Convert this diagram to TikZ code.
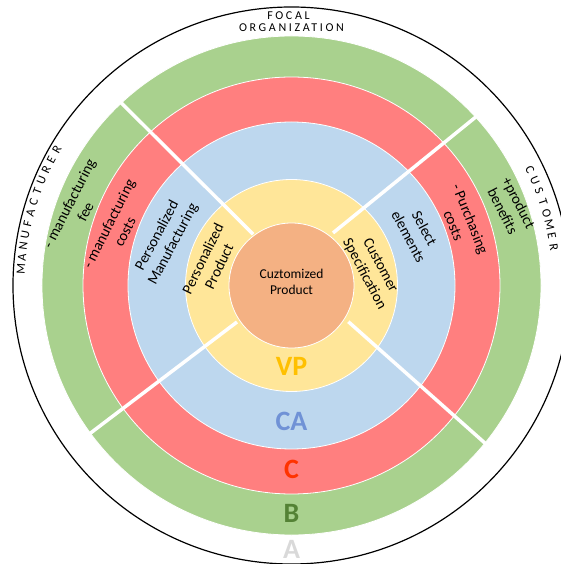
\documentclass[tikz,border=0pt]{standalone}
\usepackage{fontspec}
\setmainfont{Carlito}

\definecolor{ringgreen}{HTML}{A9D18E}
\definecolor{ringred}{HTML}{FF7F7F}
\definecolor{ringblue}{HTML}{BDD7EE}
\definecolor{ringyellow}{HTML}{FFE699}
\definecolor{ringorange}{HTML}{F4B183}
\definecolor{vpgold}{HTML}{FFC000}
\definecolor{cablue}{HTML}{7092D6}
\definecolor{cred}{HTML}{FF3300}
\definecolor{bgreen}{HTML}{548235}
\definecolor{agray}{HTML}{D9D9D9}

\begin{document}
\begin{tikzpicture}[x=1pt,y=1pt,
  ring/.style={draw=white, line width=0.8},
  divider/.style={white, line width=3.5},
  ringlabel/.style={align=center, inner sep=0pt, font=\fontsize{15}{18}\selectfont},
  layer/.style={inner sep=0pt, font=\bfseries\fontsize{28}{28}\selectfont},
  rimletter/.style={inner sep=0pt, font=\fontsize{12.5}{12.5}\selectfont}]

\clip (-291.5,-278.5) rectangle (269.5,285.5);

% draw outer circle
\draw[line width=1.2] (0,0) circle (278.5);

% draw rings
\fill[ringgreen, ring] (0,0) circle (249.5);
\fill[ringred, ring] (0,0) circle (208.5);
\fill[ringblue, ring] (0,0) circle (163.5);
\fill[ringyellow, ring] (0,0) circle (106);
\fill[ringorange, ring] (0,0) circle (62.5);

% draw dividers
\draw[divider] (126.8:64) -- (133:251);
\draw[divider] (51.7:67) -- (42.4:252.7);
\draw[divider] (213.8:65.6) -- (216.3:252.5);
\draw[divider] (327.5:67.4) -- (320.8:252.3);

% center
\node[align=center, inner sep=0pt, font=\fontsize{13.5}{16}\selectfont] (core) at (0,4) {Cuztomized\\Product};

% manufacturer side
\node[ringlabel, rotate=63] (mfee) at (160:228) {- manufacturing\\fee};
\node[ringlabel, rotate=63] (mcosts) at (161.7:184) {- manufacturing\\costs};
\node[ringlabel, rotate=62] (pmanuf) at (160.2:134) {Personalized\\Manufacturing};
\node[ringlabel, rotate=64] (pprod) at (164:84) {Personalized\\Product};

% customer side
\node[ringlabel, rotate=-62] (cspec) at (10.9:82) {Customer\\Specification};
\node[ringlabel, rotate=-62] (select) at (23:136) {Select\\elements};
\node[ringlabel, rotate=-68] (pcosts) at (20.4:182) {- Purchasing\\costs};
\node[ringlabel, rotate=-63] (benefit) at (19.7:233) {+product\\benefits};

% layer letters
\node[layer, vpgold] (vp) at (0,-80.5) {VP};
\node[layer, cablue] (ca) at (0,-136) {CA};
\node[layer, cred] (c) at (0,-183.5) {C};
\node[layer, bgreen] (b) at (0,-228) {B};
\node[layer, agray] (a) at (0,-263.5) {A};

% rim texts
\node[inner sep=0pt, font=\fontsize{12}{12}\selectfont\addfontfeature{LetterSpace=22}] (focal) at (-3,270) {FOCAL};
\node[inner sep=0pt, font=\fontsize{12}{12}\selectfont\addfontfeature{LetterSpace=22}] (org) at (0,257.5) {ORGANIZATION};
\foreach \ch [count=\i from 0] in {M,A,N,U,F,A,C,T,U,R,E,R}
  \node[rimletter, rotate={86.5-2.41*\i}] (man\i) at ({176.5-2.41*\i}:271) {\ch};
\foreach \ch [count=\i from 0] in {C,U,S,T,O,M,E,R}
  \node[rimletter, rotate={-64.1-2.53*\i}] (cus\i) at ({25.9-2.53*\i}:265) {\ch};

\end{tikzpicture}
\end{document}
